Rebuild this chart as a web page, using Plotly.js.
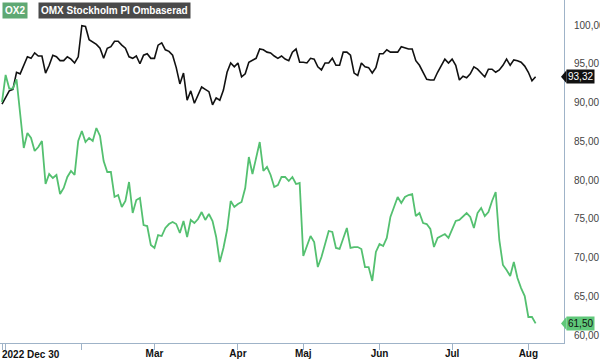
<!DOCTYPE html>
<html><head><meta charset="utf-8">
<script src="https://cdn.plot.ly/plotly-3.0.1.min.js"></script>
<style>html,body{margin:0;padding:0;background:#fff}#chart{width:600px;height:359px}</style>
</head><body><div id="chart"></div>
<script>
// Trading calendar (Stockholm), start date and exchange holidays
const startDate = '2022-12-30';
const holidays = ['2023-01-06','2023-04-07','2023-04-10','2023-05-01','2023-05-18','2023-06-06','2023-06-23'];
const monthNames = ['Jan','Feb','Mar','Apr','Maj','Jun','Jul','Aug','Sep','Okt','Nov','Dec'];
const hiddenMonthLabels = ['Feb'];
const firstLabel = '2022 Dec 30';
const seriesNames = ['OX2', 'OMX Stockholm PI Ombaserad'];

const omxValues = [
  89.8, 90.6, 91.5, 91.7, 93.9, 93.7, 94.8, 95.9, 95.7, 96.4,
  96.0, 96.0, 93.8, 94.8, 96.1, 95.9, 95.4, 95.4, 95.9, 95.6,
  95.1, 95.9, 99.9, 99.8, 98.1, 97.8, 97.5, 97.0, 95.7, 97.0,
  97.2, 97.9, 97.9, 97.4, 97.0, 95.9, 95.7, 96.0, 95.0, 96.1,
  96.3, 95.7, 95.7, 97.4, 97.7, 96.8, 96.6, 96.1, 94.5, 92.4,
  93.8, 90.3, 91.5, 89.9, 91.0, 92.0, 91.7, 91.4, 89.7, 90.6,
  90.3, 91.6, 93.9, 95.1, 94.6, 95.1, 93.3, 93.7, 95.2, 95.4,
  95.7, 96.9, 96.8, 96.5, 96.4,
  96.0, 95.7, 96.0, 95.6, 95.4, 96.5, 96.9, 95.2, 95.2, 95.1,
  95.7, 95.6, 94.6, 94.2, 95.1, 95.1, 95.7, 94.8, 94.8, 96.5,
  96.5, 96.1, 93.8, 93.5, 95.1, 94.6, 94.5, 93.8, 94.5, 96.3,
  96.3, 96.8, 96.5, 96.5, 96.5, 97.2, 97.0, 96.9, 96.9, 95.4,
  94.8, 93.9, 93.0, 92.9, 92.9, 93.9, 94.8, 95.6, 95.1, 95.6,
  94.8, 92.9, 93.4, 93.2, 93.7, 94.6, 94.3, 93.8, 93.3, 94.3,
  94.3, 93.9, 94.2, 94.8, 95.6, 94.8, 95.5, 95.4, 95.2, 94.7,
  93.9, 92.8, 93.32
];

const ox2Values = [
  90.06, 93.55, 91.8, 91.8, 93.0, 88.6, 84.13, 86.06, 85.42, 83.74,
  84.26, 85.03, 79.48, 80.77, 80.26, 80.65, 78.19, 78.97, 80.39, 81.16,
  80.65, 85.03, 86.32, 84.90, 85.42, 85.03, 86.71, 85.68, 82.45, 81.03,
  81.03, 77.81, 78.06, 76.52, 77.29, 79.74, 75.74, 77.42, 77.68, 74.19,
  74.06, 71.61, 71.23, 72.90, 72.77, 73.81, 74.32, 74.58, 74.32, 73.16,
  74.71, 72.65, 74.84, 74.45, 74.97, 75.87, 74.84, 75.61, 74.71, 72.65,
  69.42, 71.23, 73.55, 77.29, 76.52, 76.90, 77.16, 78.97, 82.97, 80.77,
  82.84, 84.90, 81.16, 81.68, 80.65, 79.10, 79.35, 80.39, 80.39, 79.87,
  80.39, 79.48, 79.61, 70.19, 71.48, 72.77, 72.00, 68.77, 70.06, 71.87,
  73.42, 73.29, 71.23, 71.10, 72.52, 73.81, 71.23, 71.35, 71.35, 71.10,
  68.77, 68.77, 66.97, 70.71, 71.74, 71.48, 72.52, 75.23, 76.52, 77.81,
  77.03, 77.81, 78.06, 78.19, 75.35, 75.74, 74.45, 74.32, 73.68, 71.35,
  72.52, 72.77, 73.03, 72.52, 73.68, 74.71, 74.84, 75.23, 75.74, 75.23,
  73.81, 75.74, 76.39, 75.35, 75.87, 77.29, 78.45, 72.26, 69.03, 68.39,
  67.61, 69.42, 67.35, 66.06, 65.03, 62.32, 62.32, 61.50
];

// Build trading dates
function iso(d){ return d.toISOString().slice(0,10); }
const dates = [];
{
  let d = new Date(startDate + 'T00:00:00Z');
  while (dates.length < omxValues.length) {
    const wd = d.getUTCDay();
    const s = iso(d);
    if (wd !== 0 && wd !== 6 && holidays.indexOf(s) < 0) dates.push(s);
    d.setUTCDate(d.getUTCDate() + 1);
  }
}
const tickvals = [], ticktext = [];
dates.forEach((s, i) => {
  if (i === 0) { tickvals.push(s); ticktext.push(' '); return; }
  if (s.slice(0,7) !== dates[i-1].slice(0,7)) {
    const m = monthNames[parseInt(s.slice(5,7),10)-1];
    tickvals.push(s);
    ticktext.push(hiddenMonthLabels.indexOf(m) >= 0 ? ' ' : m);
  }
});

const fmt = v => v.toFixed(2).replace('.', ',');
const greenLine = 'rgb(84,192,112)';
const axisCol = '#9fb3c8';
const pxPerDay = 3.63;
const plotW = 564;

const traces = [
  {x: dates, y: omxValues, type: 'scatter', mode: 'lines', name: seriesNames[1],
   line: {color: '#111111', width: 1.6}, hoverinfo: 'skip'},
  {x: dates, y: ox2Values, type: 'scatter', mode: 'lines', name: seriesNames[0],
   line: {color: greenLine, width: 1.8}, hoverinfo: 'skip'}
];

const lastOmx = omxValues[omxValues.length-1];
const lastOx2 = ox2Values[ox2Values.length-1];

const layout = {
  width: 600, height: 359,
  margin: {l: 0, r: 36, t: 0, b: 16, pad: 0},
  paper_bgcolor: '#fff', plot_bgcolor: '#fff',
  showlegend: false,
  separators: ', ',
  font: {family: 'Liberation Sans, Arial, sans-serif', size: 10, color: '#333'},
  xaxis: {
    type: 'category',
    range: [-2/pxPerDay, -2/pxPerDay + plotW/pxPerDay],
    tickmode: 'array', tickvals: tickvals, ticktext: ticktext,
    tickangle: 0,
    ticklabeloverflow: 'hide past domain',
    showgrid: false, zeroline: false,
    showline: true, linecolor: axisCol, linewidth: 1,
    ticks: 'outside', ticklen: 6, tickcolor: axisCol, tickwidth: 1,
    ticklabelstandoff: -5,
    tickfont: {family: 'Liberation Sans, Arial, sans-serif', size: 10, color: '#111', weight: 'bold'},
    fixedrange: true
  },
  yaxis: {
    side: 'right',
    range: [58.968, 103.226],
    tickvals: [60,65,70,75,80,85,90,95,100],
    tickformat: '.2f',
    showgrid: false, zeroline: false,
    showline: true, linecolor: axisCol, linewidth: 1,
    ticks: '', ticklabelstandoff: 7,
    tickfont: {family: 'Liberation Sans, Arial, sans-serif', size: 10, color: '#444'},
    fixedrange: true
  },
  annotations: [
    {xref: 'paper', yref: 'paper', x: 0, y: 0, xanchor: 'left', yanchor: 'top', yshift: -5, xshift: 1,
     text: '<b>' + firstLabel + '</b>', showarrow: false, borderpad: 0,
     font: {family: 'Liberation Sans, Arial, sans-serif', size: 10, color: '#111'}},
    {xref: 'paper', yref: 'paper', x: 2/plotW, y: 1, xanchor: 'left', yanchor: 'top', yshift: -2,
     text: '<b>' + seriesNames[0] + '</b>', showarrow: false, bgcolor: 'rgb(95,168,115)', borderpad: 2,
     font: {family: 'Liberation Sans, Arial, sans-serif', size: 10, color: '#fff'}},
    {xref: 'paper', yref: 'paper', x: 38/plotW, y: 1, xanchor: 'left', yanchor: 'top', yshift: -2,
     text: '<b>' + seriesNames[1] + '</b>', showarrow: false, bgcolor: '#4a4a4a', borderpad: 2,
     font: {family: 'Liberation Sans, Arial, sans-serif', size: 10, color: '#fff'}},
    {xref: 'paper', yref: 'y', x: 1, y: lastOmx, xanchor: 'left', yanchor: 'middle', xshift: 2,
     text: fmt(lastOmx), showarrow: false, bgcolor: '#111', borderpad: 1,
     font: {family: 'Liberation Sans, Arial, sans-serif', size: 10, color: '#fff'}},
    {xref: 'paper', yref: 'y', x: 1, y: lastOx2, xanchor: 'left', yanchor: 'middle', xshift: 2,
     text: fmt(lastOx2), showarrow: false, bgcolor: 'rgb(96,200,122)', borderpad: 1,
     font: {family: 'Liberation Sans, Arial, sans-serif', size: 10, color: '#111'}}
  ],
  shapes: [
    {type: 'path', xref: 'paper', yref: 'y',
     path: 'M ' + (1 - 3/plotW) + ' ' + lastOmx + ' L ' + (1 + 2.5/plotW) + ' ' + (lastOmx + 0.85) +
           ' L ' + (1 + 2.5/plotW) + ' ' + (lastOmx - 0.85) + ' Z',
     fillcolor: '#111', line: {width: 0}},
    {type: 'path', xref: 'paper', yref: 'y',
     path: 'M ' + (1 - 3/plotW) + ' ' + lastOx2 + ' L ' + (1 + 2.5/plotW) + ' ' + (lastOx2 + 0.85) +
           ' L ' + (1 + 2.5/plotW) + ' ' + (lastOx2 - 0.85) + ' Z',
     fillcolor: 'rgb(96,200,122)', line: {width: 0}}
  ]
};

Plotly.newPlot('chart', traces, layout, {staticPlot: true, displayModeBar: false});
</script>
</body></html>
